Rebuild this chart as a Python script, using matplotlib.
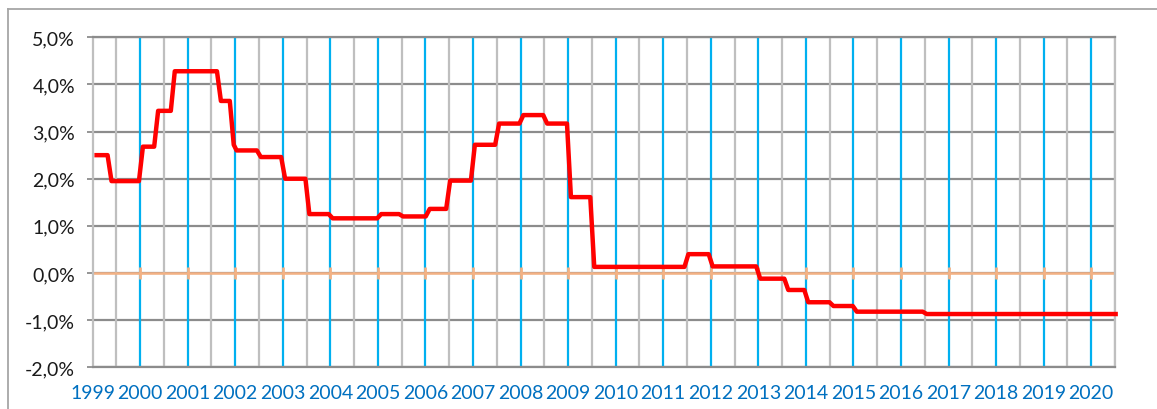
import matplotlib
matplotlib.use('Agg')
import matplotlib.pyplot as plt
from matplotlib.lines import Line2D
import numpy as np

plt.rcParams['font.family'] = ['Lato', 'DejaVu Sans']

# 利率阶梯：每一档的起始时间（十进制年份）和数值（%）
level_start = [1999.04, 1999.40, 2000.06, 2000.38, 2000.73, 2001.70, 2001.97,
               2002.03, 2002.54, 2003.05, 2003.56, 2004.05, 2005.07, 2005.53,
               2006.09, 2006.52, 2007.04, 2007.55, 2008.06, 2008.56, 2009.06,
               2009.55, 2011.53, 2012.04, 2013.04, 2013.63, 2014.05, 2014.58,
               2015.07, 2016.54]
level_value = [2.50, 1.95, 2.68, 3.44, 4.28, 3.65, 2.72,
               2.60, 2.46, 2.00, 1.25, 1.16, 1.25, 1.20,
               1.36, 1.96, 2.72, 3.17, 3.35, 3.17, 1.61,
               0.13, 0.40, 0.14, -0.12, -0.36, -0.62, -0.70,
               -0.82, -0.87]
series_end = 2020.56

years = list(range(1999, 2021))
y_ticks = [-2, -1, 0, 1, 2, 3, 4, 5]

# 月度数据：每次变动用一个月过渡
step = 1 / 12
xs, ys = [], []
ends = level_start[1:] + [series_end + step]
for t0, t1, v in zip(level_start, ends, level_value):
    xs.append(t0)
    ys.append(v)
    if t1 - step > t0:
        xs.append(t1 - step)
        ys.append(v)

fig = plt.figure(figsize=(11.57, 4.10), dpi=100)
ax = fig.add_axes([92.5 / 1157, 1 - 368.3 / 410, (1115 - 92.5) / 1157, (368.3 - 38.3) / 410])

ax.set_xlim(1999.0, 2020.5)
ax.set_ylim(-2, 5)

# 网格线
for v in y_ticks:
    ax.axhline(v, color='#8c8c8c', linewidth=1.6, zorder=1)
for yr in years[1:]:
    ax.axvline(yr, color='#00b0f0', linewidth=1.6, zorder=1)
for yr in years:
    ax.axvline(yr + 0.5, color='#bfbfbf', linewidth=1.6, zorder=1)

# 零线及刻度
ax.axhline(0, color='#f4b183', linewidth=1.8, zorder=2)
ax.vlines(years[1:], -0.13, 0.13, color='#f4b183', linewidth=2.0, zorder=2)

ax.plot(xs, ys, color='#ff0000', linewidth=3.2, solid_joinstyle='round',
        solid_capstyle='butt', zorder=3, clip_on=False)

for side in ['top', 'bottom']:
    ax.spines[side].set_color('#8c8c8c')
    ax.spines[side].set_linewidth(1.6)
for side in ['left', 'right']:
    ax.spines[side].set_color('#bfbfbf')
    ax.spines[side].set_linewidth(1.6)

ax.set_yticks(y_ticks)
ax.set_yticklabels([f"{v:.1f}%".replace('.', ',') for v in y_ticks],
                   fontsize=14, color='#1a1a1a')
ax.tick_params(axis='y', length=4.5, width=1.3, color='#8c8c8c', pad=8)

ax.set_xticks(years)
ax.set_xticklabels([str(y) for y in years], fontsize=14, color='#0070c0')
ax.tick_params(axis='x', length=0, pad=12)

# 外框
fig.add_artist(Line2D([8 / 1157, 8 / 1157], [-0.1, 1 - 10 / 410], transform=fig.transFigure,
                      color='#a6a6a6', linewidth=1.3))
fig.add_artist(Line2D([8 / 1157, 1.1], [1 - 10 / 410, 1 - 10 / 410], transform=fig.transFigure,
                      color='#a6a6a6', linewidth=1.3))

fig.savefig('out.png', dpi=100)
